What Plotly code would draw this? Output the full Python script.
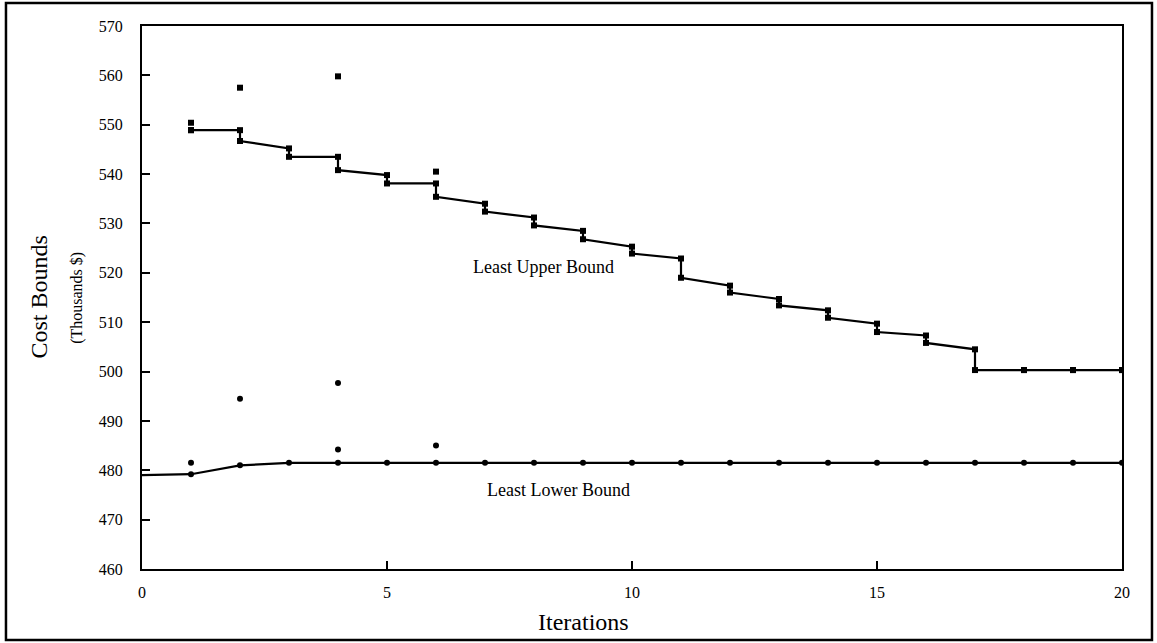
import plotly.graph_objects as go

# ---- data ----
iterations = list(range(1, 21))
# upper bound value reached at each iteration (before improvement) and after improvement
upper_in = [548.9, 548.9, 545.2, 543.5, 539.8, 538.1, 534.0, 531.2, 528.5, 525.3,
            522.9, 517.4, 514.7, 512.4, 509.7, 507.3, 504.5, 500.3, 500.3, 500.3]
upper_out = [548.9, 546.7, 543.5, 540.8, 538.1, 535.4, 532.4, 529.6, 526.8, 523.9,
             519.0, 516.0, 513.4, 510.9, 508.0, 505.8, 500.3, 500.3, 500.3, 500.3]
upper_trial_x = [1, 2, 4, 6]
upper_trial_y = [550.4, 557.5, 559.8, 540.5]

lower_x = list(range(0, 21))
lower_y = [479.0, 479.2, 481.0, 481.5, 481.5, 481.5, 481.5, 481.5, 481.5, 481.5, 481.5,
           481.5, 481.5, 481.5, 481.5, 481.5, 481.5, 481.5, 481.5, 481.5, 481.5]
lower_trial_x = [1, 2, 4, 4, 6]
lower_trial_y = [481.5, 494.5, 497.7, 484.2, 485.0]

y_ticks = list(range(460, 571, 10))
x_ticks = [0, 5, 10, 15, 20]

FONT = "Liberation Serif, Times New Roman, serif"

# build step path for upper bound
px, py = [], []
for x, a, b in zip(iterations, upper_in, upper_out):
    px += [x, x]
    py += [a, b]

fig = go.Figure()
fig.add_trace(go.Scatter(x=px, y=py, mode="lines+markers",
                         line=dict(color="black", width=2.2),
                         marker=dict(symbol="square", size=6, color="black"),
                         hoverinfo="skip", showlegend=False))
fig.add_trace(go.Scatter(x=upper_trial_x, y=upper_trial_y, mode="markers",
                         marker=dict(symbol="square", size=6, color="black"),
                         showlegend=False))
fig.add_trace(go.Scatter(x=lower_x, y=lower_y, mode="lines",
                         line=dict(color="black", width=2.2),
                         showlegend=False))
fig.add_trace(go.Scatter(x=lower_x[1:], y=lower_y[1:], mode="markers",
                         marker=dict(symbol="circle", size=6, color="black"),
                         showlegend=False))
fig.add_trace(go.Scatter(x=lower_trial_x, y=lower_trial_y, mode="markers",
                         marker=dict(symbol="circle", size=6, color="black"),
                         showlegend=False))

axis_common = dict(showline=True, linecolor="black", linewidth=2, mirror=True,
                   showgrid=False, zeroline=False, ticks="inside", ticklen=8,
                   tickwidth=1.5, tickcolor="black",
                   tickfont=dict(family=FONT, size=16, color="black"))

fig.update_xaxes(range=[0, 20], tickvals=x_ticks, ticklabelstandoff=8, **axis_common)
fig.update_yaxes(range=[460, 570], tickvals=y_ticks, ticklabelstandoff=14, **axis_common)

fig.add_annotation(x=8.2, y=521.1, text="Least Upper Bound", showarrow=False,
                   font=dict(family=FONT, size=18, color="black"))
fig.add_annotation(x=8.5, y=476.0, text="Least Lower Bound", showarrow=False,
                   font=dict(family=FONT, size=18, color="black"))
fig.add_annotation(x=9.0, xref="x", y=-0.098, yref="paper", text="Iterations",
                   xanchor="center", yanchor="middle",
                   showarrow=False, font=dict(family=FONT, size=24, color="black"))
fig.add_annotation(x=-0.106, xref="paper", y=0.5, yref="paper", text="Cost Bounds",
                   textangle=-90, showarrow=False, xanchor="center", yanchor="middle",
                   font=dict(family=FONT, size=24, color="black"))
fig.add_annotation(x=-0.067, xref="paper", y=0.5, yref="paper", text="(Thousands $)",
                   textangle=-90, showarrow=False, xanchor="center", yanchor="middle",
                   font=dict(family=FONT, size=16, color="black"))

# outer frame
fig.add_shape(type="rect", xref="paper", yref="paper",
              x0=-0.1388, x1=1.0306, y0=-0.1308, y1=1.0424,
              line=dict(color="black", width=2.5), fillcolor="rgba(0,0,0,0)")

fig.update_layout(width=1157, height=643, plot_bgcolor="white", paper_bgcolor="white",
                  margin=dict(l=142, r=35, t=26, b=74),
                  font=dict(family=FONT, color="black"))

fig.write_html("out.html")
